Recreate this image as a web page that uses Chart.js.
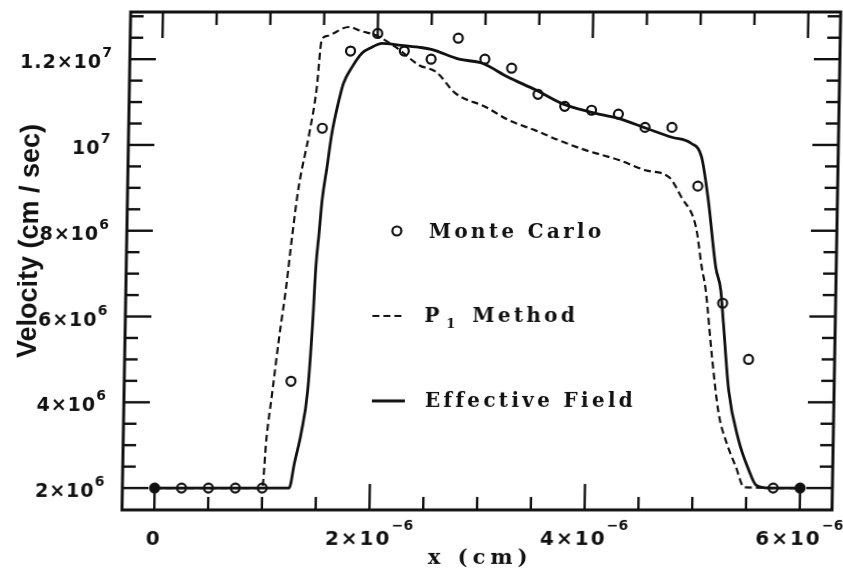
<!DOCTYPE html>
<html>
<head>
<meta charset="utf-8">
<title>Velocity vs x</title>
<script src="https://cdn.jsdelivr.net/npm/chart.js@4.4.0/dist/chart.umd.min.js"></script>
<style>
    html, body { margin: 0; padding: 0; background: #fff; }
    #wrap { width: 843px; height: 577px; overflow: hidden; }
    /* the scanned figure leans about one degree, copy that */
    #chart { display: block; transform: skewX(-1deg); transform-origin: 0 510px; }
</style>
</head>
<body>
<div id="wrap"><canvas id="chart" width="843" height="577"></canvas></div>
<script>
// x in cm, velocity in cm/sec
const mcX = [0, 2.5e-7, 5e-7, 7.5e-7, 1e-6, 1.25e-6, 1.5e-6, 1.75e-6, 2e-6, 2.25e-6, 2.5e-6, 2.75e-6,
    3e-6, 3.25e-6, 3.5e-6, 3.75e-6, 4e-6, 4.25e-6, 4.5e-6, 4.75e-6, 5e-6, 5.25e-6, 5.5e-6, 5.75e-6, 6e-6];
const mcV = [2.0e6, 2.0e6, 2.0e6, 2.0e6, 2.0e6, 4.49e6, 1.039e7, 1.219e7, 1.26e7, 1.219e7, 1.2e7, 1.249e7,
    1.2e7, 1.179e7, 1.118e7, 1.09e7, 1.081e7, 1.072e7, 1.041e7, 1.041e7, 9.04e6, 6.31e6, 5.0e6, 2.0e6, 2.0e6];

const p1X = [0, 1.0e-6, 1.03e-6, 1.08e-6, 1.13e-6, 1.19e-6, 1.24e-6, 1.29e-6, 1.38e-6, 1.44e-6, 1.48e-6,
    1.53e-6, 1.73e-6, 1.85e-6, 1.98e-6, 2.17e-6, 2.39e-6, 2.55e-6, 2.73e-6, 3.02e-6, 3.23e-6, 3.48e-6,
    3.70e-6, 3.95e-6, 4.26e-6, 4.51e-6, 4.73e-6, 4.85e-6, 4.99e-6, 5.05e-6, 5.09e-6, 5.16e-6, 5.23e-6,
    5.31e-6, 5.40e-6, 5.48e-6, 6.0e-6];
const p1V = [2.0e6, 2.0e6, 3.12e6, 4.28e6, 5.45e6, 6.69e6, 7.94e6, 9.02e6, 1.027e7, 1.128e7, 1.244e7,
    1.254e7, 1.275e7, 1.265e7, 1.256e7, 1.228e7, 1.186e7, 1.17e7, 1.121e7, 1.088e7, 1.058e7, 1.034e7,
    1.011e7, 9.88e6, 9.65e6, 9.41e6, 9.25e6, 8.78e6, 8.08e6, 7.15e6, 6.62e6, 5.05e6, 3.75e6,
    3.05e6, 2.49e6, 2.02e6, 2.0e6];

const effX = [0, 1.25e-6, 1.295e-6, 1.353e-6, 1.407e-6, 1.442e-6, 1.463e-6, 1.487e-6, 1.51e-6, 1.55e-6,
    1.59e-6, 1.65e-6, 1.69e-6, 1.765e-6, 1.856e-6, 1.948e-6, 2.04e-6, 2.2e-6, 2.38e-6, 2.5e-6, 2.76e-6,
    2.97e-6, 3.22e-6, 3.48e-6, 3.72e-6, 4.0e-6, 4.25e-6, 4.51e-6, 4.75e-6, 4.93e-6, 5.03e-6, 5.10e-6,
    5.18e-6, 5.23e-6, 5.26e-6, 5.32e-6, 5.42e-6, 5.52e-6, 5.59e-6, 5.71e-6, 6.0e-6];
const effV = [2.0e6, 2.0e6, 2.58e6, 3.28e6, 4.28e6, 5.85e6, 7.16e6, 7.94e6, 8.71e6, 9.48e6,
    1.027e7, 1.104e7, 1.144e7, 1.181e7, 1.214e7, 1.228e7, 1.237e7, 1.233e7, 1.228e7, 1.223e7, 1.2e7,
    1.191e7, 1.158e7, 1.128e7, 1.097e7, 1.076e7, 1.062e7, 1.039e7, 1.018e7, 1.004e7, 9.72e6, 8.71e6,
    7.15e6, 6.62e6, 5.85e6, 4.28e6, 3.12e6, 2.42e6, 2.07e6, 2.0e6, 2.0e6];

// tick labels: [value, base text, exponent]
const xTickLabels = [[0, "0", ""], [2e-6, "2×10", "−6"], [4e-6, "4×10", "−6"], [6e-6, "6×10", "−6"]];
const yTickLabels = [[2e6, "2×10", "6"], [4e6, "4×10", "6"], [6e6, "6×10", "6"],
    [8e6, "8×10", "6"], [1e7, "10", "7"], [1.2e7, "1.2×10", "7"]];

const INK = "#111";
const TICK_SANS = '"DejaVu Sans", sans-serif';
const SERIF = '"DejaVu Serif", serif';

function toXY(xs, ys) {
    return xs.map((x, i) => ({ x: x, y: ys[i] }));
}

function seg(ctx, x1, y1, x2, y2) {
    ctx.beginPath();
    ctx.moveTo(x1, y1);
    ctx.lineTo(x2, y2);
    ctx.stroke();
}

// base text with a raised exponent
function sciText(ctx, base, sup, x, y, align, size, supSize, rise, spacing) {
    ctx.font = "bold " + size + "px " + TICK_SANS;
    ctx.letterSpacing = spacing + "px";
    const wb = ctx.measureText(base).width;
    ctx.font = "bold " + supSize + "px " + TICK_SANS;
    ctx.letterSpacing = "0px";
    const ws = sup ? ctx.measureText(sup).width : 0;
    const total = wb + ws;
    const x0 = align === "right" ? x - total : x - total / 2;
    ctx.textAlign = "left";
    ctx.textBaseline = "alphabetic";
    ctx.font = "bold " + size + "px " + TICK_SANS;
    ctx.letterSpacing = spacing + "px";
    ctx.fillText(base, x0, y);
    if (sup) {
        ctx.font = "bold " + supSize + "px " + TICK_SANS;
        ctx.letterSpacing = "0px";
        ctx.fillText(sup, x0 + wb, y - rise);
    }
}

const framePlugin = {
    id: "frame",
    afterDatasetsDraw(chart) {
        const { ctx, chartArea: a } = chart;
        const xs = chart.scales.x, ys = chart.scales.y;
        ctx.save();
        ctx.strokeStyle = INK;
        ctx.fillStyle = INK;
        ctx.lineCap = "butt";

        // inward ticks on all four sides
        ctx.lineWidth = 2.4;
        for (let i = 0; i <= 12; i++) {
            const px = xs.getPixelForValue(i * 5e-7);
            const len = i % 4 === 0 ? 26 : 13;
            seg(ctx, px, a.bottom, px, a.bottom - len);
            seg(ctx, px, a.top, px, a.top + len);
        }
        for (let i = 4; i <= 26; i++) {
            const py = ys.getPixelForValue(i * 5e5);
            const len = i % 4 === 0 ? 26 : 13;
            seg(ctx, a.left, py, a.left + len, py);
            seg(ctx, a.right, py, a.right - len, py);
        }

        ctx.lineWidth = 3;
        ctx.strokeRect(a.left, a.top, a.right - a.left, a.bottom - a.top);

        // tick labels
        yTickLabels.forEach(([v, base, sup]) => {
            const py = ys.getPixelForValue(v);
            sciText(ctx, base, sup, 104, py + 9, "right", 19, 14, 11, 1);
        });
        xTickLabels.forEach(([v, base, sup]) => {
            const px = xs.getPixelForValue(v);
            sciText(ctx, base, sup, px, 545, "center", 20, 14, 15, 2);
        });

        // axis titles
        ctx.letterSpacing = "5px";
        ctx.font = "bold 21px " + SERIF;
        ctx.textAlign = "center";
        ctx.fillText("x (cm)", 481, 564);

        ctx.save();
        ctx.translate(33, 241);
        ctx.rotate(-Math.PI / 2);
        ctx.letterSpacing = "0px";
        ctx.font = 'bold 27px "Liberation Sans", Arial, sans-serif';
        ctx.textAlign = "center";
        ctx.fillText("Velocity (cm / sec)", 0, 0);
        ctx.restore();

        // legend inside the plot
        ctx.textAlign = "left";
        ctx.letterSpacing = "3.3px";
        ctx.font = "bold 20px " + SERIF;

        ctx.lineWidth = 2.2;
        ctx.beginPath();
        ctx.arc(392, 231, 4.5, 0, Math.PI * 2);
        ctx.stroke();
        ctx.fillText("Monte Carlo", 424, 238);

        ctx.setLineDash([7, 4]);
        seg(ctx, 369, 316, 400, 316);
        ctx.setLineDash([]);
        ctx.fillText("P", 421, 322);
        ctx.font = "bold 13px " + SERIF;
        ctx.letterSpacing = "0px";
        ctx.fillText("1", 443, 328);
        ctx.font = "bold 20px " + SERIF;
        ctx.letterSpacing = "3.3px";
        ctx.fillText("Method", 469, 322);

        ctx.lineWidth = 2.8;
        seg(ctx, 370, 401, 403, 401);
        ctx.fillText("Effective Field", 423, 407);

        ctx.restore();
    }
};

const canvas = document.getElementById("chart");
new Chart(canvas, {
    type: "line",
    data: {
        datasets: [
            {
                label: "Effective Field",
                data: toXY(effX, effV),
                borderColor: INK,
                borderWidth: 2.8,
                pointRadius: 0,
                cubicInterpolationMode: "monotone",
                fill: false
            },
            {
                label: "P1 Method",
                data: toXY(p1X, p1V),
                borderColor: INK,
                borderWidth: 2.2,
                borderDash: [7, 4],
                pointRadius: 0,
                cubicInterpolationMode: "monotone",
                fill: false
            },
            {
                label: "Monte Carlo",
                data: toXY(mcX, mcV),
                showLine: false,
                pointRadius: 4.5,
                pointBorderWidth: 2.2,
                pointBorderColor: INK,
                pointBackgroundColor: c => (c.dataIndex === 0 || c.dataIndex === mcX.length - 1) ? INK : "rgba(0,0,0,0)"
            }
        ]
    },
    options: {
        responsive: false,
        animation: false,
        layout: { padding: { left: 122, top: 12, right: 11, bottom: 67 } },
        plugins: {
            legend: { display: false },
            tooltip: { enabled: false }
        },
        scales: {
            x: { type: "linear", min: -3e-7, max: 6.3e-6, display: false },
            y: { type: "linear", min: 1.49e6, max: 1.31e7, display: false }
        }
    },
    plugins: [framePlugin]
});
</script>
</body>
</html>
